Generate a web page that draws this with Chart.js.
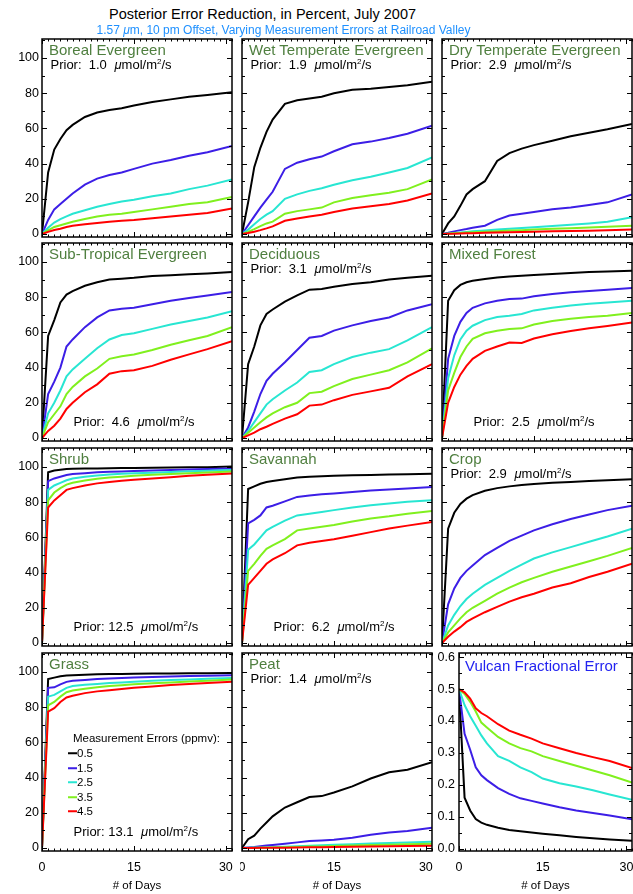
<!DOCTYPE html>
<html lang="en">
<head>
<meta charset="UTF-8" />
<script src="https://cdn.jsdelivr.net/npm/chart.js"></script>
<style>
  body { margin: 0; background: #fff; font-family: "Liberation Sans", Arial, sans-serif; }
  #page { position: relative; width: 633px; height: 894px; overflow: hidden; background: #fff; }
  canvas { position: absolute; }
  .t { position: absolute; white-space: pre; line-height: 1; transform: translateY(-50%); z-index: 5; }
  .name { font-size: 15px; color: #4f7f3f; }
  .prior { font-size: 13px; color: #000; }
  .prior i { margin-left: 4px; }
  .t sup { font-size: 8px; vertical-align: baseline; position: relative; top: -5px; }
  .leg { font-size: 11.5px; color: #000; }
  .leg span { display: inline-block; width: 9px; height: 2px; vertical-align: middle; margin-right: 0; position: relative; top: -1px; }
</style>
</head>
<body>
<div id="page"></div>
<script>
// days (0..31, July)
const days = [0, 1, 2, 3, 4, 5, 7, 9, 11, 13, 15, 18, 21, 24, 27, 31];
const errors = ["0.5", "1.5", "2.5", "3.5", "4.5"];
const colors = ["#000000", "#3c1ee6", "#28e6d2", "#80f01e", "#ff0000"];
const xTicks = [0, 15, 30];
const pctTicks = [0, 20, 40, 60, 80, 100];
const fracTicks = [0, 0.1, 0.2, 0.3, 0.4, 0.5, 0.6];

// posterior error reduction (%), one row per measurement error
const boreal = [
  [0, 35, 48, 54, 59, 62, 66.5, 69, 70.5, 71.5, 73, 75, 76.5, 78, 79, 80.5],
  [0, 8, 14, 17, 20, 23, 28, 31.5, 33.5, 35, 37, 40, 42, 44.5, 46.5, 50],
  [0, 3.5, 6.5, 8.5, 10, 11.5, 13.5, 15.5, 17, 18.5, 19.5, 21.5, 23, 25.5, 27.5, 31],
  [0, 2, 4, 5, 6, 7, 8.5, 10, 11, 11.5, 12.5, 14, 15.5, 17, 18, 21],
  [0, 1.2, 2.3, 3, 4, 4.7, 5.5, 6.3, 7, 7.5, 8, 9, 10, 11, 12, 14.5]
];
const wetTemperate = [
  [0, 18, 38, 49, 58, 65, 74, 76, 77, 78, 80, 82, 82.5, 83.5, 84.5, 86.5],
  [0, 5, 10, 15, 19.5, 24, 37, 40.5, 42.5, 44, 47, 51, 52.5, 54.5, 57, 61.5],
  [0, 2.5, 5.5, 8.5, 11, 13, 20, 22.5, 24.5, 26, 28, 30.5, 32.5, 35, 37.5, 43.5],
  [0, 1.2, 2.8, 4.5, 6, 7, 11.5, 13, 14, 15, 18, 20.5, 22, 23.5, 25.5, 31],
  [0, 0.6, 1.3, 2.2, 3.2, 4.3, 7.5, 8.8, 10, 11, 12.5, 14.5, 15.8, 17, 19, 23]
];
const dryTemperate = [
  [0, 6, 10, 16, 22.5, 25.5, 30, 41.5, 46, 48.5, 50.5, 53, 55.5, 57.5, 59.5, 62.5],
  [0, 0.7, 1.5, 2.2, 2.8, 3.5, 4.7, 8, 10.5, 11.5, 12.5, 14, 15, 16.5, 18, 22.5],
  [0, 0.3, 0.6, 0.9, 1.2, 1.5, 2, 2.6, 3, 3.4, 3.8, 4.5, 5.2, 6, 7, 9.5],
  [0, 0.2, 0.4, 0.6, 0.8, 1, 1.3, 1.6, 2, 2.2, 2.5, 3, 3.3, 3.7, 4.1, 4.7],
  [0, 0.1, 0.2, 0.3, 0.4, 0.5, 0.7, 0.9, 1, 1.1, 1.3, 1.5, 1.7, 1.9, 2.1, 2.6]
];
const subTropical = [
  [0, 58, 67, 77, 81.5, 83.5, 86.5, 88.5, 90, 90.5, 91, 92, 92.5, 93, 93.5, 94.3],
  [0, 25, 32, 40, 52, 56, 63, 68.5, 72.5, 73.5, 74, 76, 78, 79.5, 81, 83],
  [0, 14, 20, 27, 35, 39, 45, 51, 56, 58.5, 59.5, 62, 64.5, 66.5, 68.5, 72],
  [0, 9, 13.5, 18, 25, 29, 35, 39.5, 45, 46.5, 47.5, 50, 53, 55.5, 58, 63],
  [0, 4, 7, 11, 16.5, 20, 26, 30.5, 36.5, 38, 38.5, 41, 44.5, 47.5, 50.5, 55]
];
const deciduous = [
  [0, 42, 52, 64, 70.5, 73, 77.5, 81, 84.3, 84.7, 86, 87.5, 88.5, 90, 91, 92.2],
  [0, 6, 15, 25, 32.5, 36.5, 43, 50, 57, 58, 61, 64, 66.5, 68.5, 72.5, 76],
  [0, 4, 9, 14, 19, 22, 27, 31.5, 37.5, 38.5, 42, 46, 48.5, 50.5, 55.5, 63],
  [0, 3, 6, 9, 11.7, 14, 17.5, 20, 25.5, 26.3, 29.5, 33.5, 36, 38.5, 43, 51],
  [0, 1.5, 3, 5, 6.4, 8, 11, 13.5, 18.4, 19, 21.5, 24.5, 26.5, 28.5, 35, 42]
];
const mixedForest = [
  [0, 78, 84, 87, 88.5, 89.3, 90.4, 91.2, 91.7, 92.2, 92.6, 93.2, 93.8, 94.3, 94.6, 95],
  [0, 45, 58, 66, 71, 74, 76.5, 78, 79, 79.2, 80.5, 81.8, 82.8, 83.5, 84.2, 85.2],
  [0, 34, 47, 56, 61, 63.8, 67, 68.7, 69.5, 70.5, 72.5, 74, 75.3, 76.3, 77, 78],
  [0, 27, 37, 46, 52, 56.3, 59.5, 61, 62, 62.3, 64.5, 66.5, 67.8, 68.7, 69.5, 71],
  [0, 20, 29, 36, 41, 45, 49.5, 52, 54.3, 54, 56.5, 59, 60.8, 62.3, 63.7, 65.7]
];
const shrub = [
  [0, 97, 98, 98.5, 98.8, 99, 99.1, 99.2, 99.3, 99.4, 99.5, 99.6, 99.7, 99.8, 99.9, 100.3],
  [0, 92, 93.5, 94.5, 95.5, 96, 96.5, 97, 97.3, 97.5, 97.7, 98, 98.3, 98.6, 98.9, 99.2],
  [0, 87, 89.5, 91, 92.5, 93.5, 94.5, 95.2, 95.8, 96.1, 96.4, 96.8, 97.2, 97.6, 97.9, 98.3],
  [0, 81, 85.5, 88, 90, 91, 92.3, 93.3, 94, 94.5, 95, 95.6, 96, 96.5, 96.9, 97.4],
  [0, 77, 81, 84, 87, 88, 89.5, 90.7, 91.5, 92.2, 92.8, 93.5, 94.2, 95, 95.6, 96.3]
];
const savannah = [
  [0, 87.5, 89, 90.5, 91.5, 92, 93, 94, 94.4, 94.7, 95, 95.3, 95.5, 95.7, 95.9, 96.2],
  [0, 68, 70, 72.5, 77, 78, 80.5, 83, 83.8, 84.5, 85, 85.8, 86.6, 87.2, 87.8, 88.7],
  [0, 53, 56, 60, 64, 66, 69.5, 72.5, 73.5, 74.5, 75.5, 77, 78.3, 79.3, 80.2, 81.1],
  [0, 41, 45, 49.5, 53.5, 55.5, 59, 64, 65, 66, 67, 69, 70.8, 72, 73.5, 75],
  [0, 33, 37, 41, 45, 47.5, 51, 55.5, 57, 58, 59, 61, 63, 65, 66.7, 68.8]
];
const crop = [
  [0, 65, 74, 79, 82, 84, 86.5, 88, 89, 89.8, 90.3, 91, 91.5, 92, 92.5, 93],
  [0, 22, 31, 37, 41, 44, 50, 54, 58, 61, 64, 67.5, 70.5, 73, 75.5, 78],
  [0, 10, 16, 21, 25, 28, 33, 37, 41, 44.5, 48, 51.5, 54.5, 57.5, 60.5, 65],
  [0, 6, 10, 14, 17.5, 20, 24, 28, 31.5, 34.5, 37, 40.5, 43.5, 46.5, 49.5, 54],
  [0, 3.5, 6.5, 9, 12, 14, 17.5, 20.5, 23.5, 26, 28, 31.5, 34, 37.5, 40.5, 45]
];
const grass = [
  [0, 96, 96.8, 97.6, 98, 98.2, 98.5, 98.7, 98.8, 98.9, 99, 99.1, 99.2, 99.3, 99.3, 99.4],
  [0, 91, 91.3, 93, 94.4, 95, 95.5, 96, 96.3, 96.6, 96.9, 97.2, 97.5, 97.7, 97.9, 98.1],
  [0, 86, 87, 89, 91, 92, 92.7, 93.2, 93.7, 94.1, 94.5, 95, 95.4, 95.8, 96.2, 96.6],
  [0, 81, 83, 86, 88.5, 89.5, 90.5, 91.3, 92, 92.5, 93, 93.6, 94.1, 94.6, 95.1, 95.7],
  [0, 77.5, 79.5, 83, 85.5, 86.5, 88, 89, 89.7, 90.3, 91, 91.8, 92.6, 93.2, 93.8, 94.4]
];
const peat = [
  [0, 5, 7, 11, 14.5, 18, 23, 26, 29, 29.5, 31.5, 35, 39.5, 43, 44.5, 48.8],
  [0, 0.3, 0.6, 1, 1.4, 1.7, 2.4, 3.2, 4, 4.3, 4.7, 5.8, 7.5, 8.8, 9.6, 11.5],
  [0, 0.1, 0.2, 0.3, 0.4, 0.5, 0.7, 1, 1.3, 1.5, 1.8, 2.2, 2.6, 2.9, 3.2, 3.6],
  [0, 0.05, 0.1, 0.15, 0.2, 0.3, 0.4, 0.6, 0.8, 0.9, 1.1, 1.4, 1.7, 1.9, 2.1, 2.4],
  [0, 0.03, 0.06, 0.1, 0.12, 0.15, 0.2, 0.3, 0.4, 0.5, 0.6, 0.7, 0.9, 1, 1.1, 1.3]
];
// Vulcan fractional error
const vulcan = [
  [0.5, 0.16, 0.12, 0.093, 0.082, 0.075, 0.066, 0.059, 0.055, 0.051, 0.047, 0.042, 0.037, 0.033, 0.029, 0.025],
  [0.5, 0.36, 0.31, 0.255, 0.23, 0.215, 0.19, 0.172, 0.158, 0.15, 0.142, 0.13, 0.12, 0.112, 0.104, 0.092],
  [0.5, 0.45, 0.415, 0.385, 0.355, 0.33, 0.29, 0.275, 0.255, 0.24, 0.22, 0.205, 0.195, 0.183, 0.17, 0.153],
  [0.5, 0.485, 0.46, 0.43, 0.395, 0.38, 0.35, 0.33, 0.315, 0.305, 0.29, 0.275, 0.26, 0.245, 0.23, 0.207],
  [0.5, 0.49, 0.47, 0.44, 0.425, 0.415, 0.39, 0.37, 0.357, 0.345, 0.33, 0.315, 0.3, 0.287, 0.275, 0.253]
];

const colLeft = [42, 242, 442];
const rowTop = [39, 243, 448, 653];
const panelW = 190, panelH = 198;

// where = "top" puts the prior under the title, "bottom" near the bottom
const panels = [
  { name: "Boreal Evergreen", data: boreal, prior: "1.0", where: "top", col: 0, row: 0 },
  { name: "Wet Temperate Evergreen", data: wetTemperate, prior: "1.9", where: "top", col: 1, row: 0 },
  { name: "Dry Temperate Evergreen", data: dryTemperate, prior: "2.9", where: "top", col: 2, row: 0 },
  { name: "Sub-Tropical Evergreen", data: subTropical, prior: "4.6", where: "bottom", col: 0, row: 1 },
  { name: "Deciduous", data: deciduous, prior: "3.1", where: "top", col: 1, row: 1 },
  { name: "Mixed Forest", data: mixedForest, prior: "2.5", where: "bottom", col: 2, row: 1 },
  { name: "Shrub", data: shrub, prior: "12.5", where: "bottom", col: 0, row: 2 },
  { name: "Savannah", data: savannah, prior: "6.2", where: "bottom", col: 1, row: 2 },
  { name: "Crop", data: crop, prior: "2.9", where: "top", col: 2, row: 2 },
  { name: "Grass", data: grass, prior: "13.1", where: "bottom", col: 0, row: 3 },
  { name: "Peat", data: peat, prior: "1.4", where: "top", col: 1, row: 3 }
];

const page = document.getElementById("page");
const tickFont = { family: "'Liberation Sans', Arial, sans-serif", size: 12.5 };

// box + inward IDL style ticks
const frame = {
  id: "frame",
  afterDraw(chart, args, opts) {
    const { ctx, chartArea: a, scales: { x, y } } = chart;
    ctx.save();
    ctx.strokeStyle = "#000";
    ctx.lineWidth = 1;
    ctx.beginPath();
    for (let d = 0; d <= 31; d++) {
      const px = Math.round(x.getPixelForValue(d)) + 0.5;
      const len = d % 15 === 0 ? 5 : 2.5;
      ctx.moveTo(px, a.bottom); ctx.lineTo(px, a.bottom - len);
      ctx.moveTo(px, a.top); ctx.lineTo(px, a.top + len);
    }
    for (let v = 0; v <= opts.yMax + 1e-9; v += opts.yMinor) {
      const py = Math.round(y.getPixelForValue(v)) + 0.5;
      const major = Math.abs(v / opts.yMajor - Math.round(v / opts.yMajor)) < 1e-6;
      const len = major ? 5 : 3;
      ctx.moveTo(a.left, py); ctx.lineTo(a.left + len, py);
      ctx.moveTo(a.right, py); ctx.lineTo(a.right - len, py);
    }
    ctx.stroke();
    ctx.lineWidth = 1.5;
    ctx.strokeRect(a.left, a.top, a.right - a.left, a.bottom - a.top);
    ctx.restore();
  }
};

function addChart(data, left, top, width, yLabels, xLabels, yOpts) {
  const L = yLabels ? 40 : 2;
  const B = xLabels ? 42 : 2;
  const canvas = document.createElement("canvas");
  canvas.width = L + width + 2;
  canvas.height = 2 + panelH + B;
  canvas.style.left = (left - L) + "px";
  canvas.style.top = (top - 2) + "px";
  page.appendChild(canvas);

  new Chart(canvas, {
    type: "line",
    data: {
      datasets: data.map((vals, i) => ({
        label: errors[i],
        data: vals.map((v, j) => ({ x: days[j], y: v })),
        borderColor: colors[i],
        borderWidth: 2,
        pointRadius: 0,
        tension: 0,
        fill: false,
        order: data.length - 1 - i
      }))
    },
    options: {
      responsive: false,
      animation: false,
      devicePixelRatio: 1,
      layout: { padding: { left: 0, right: 2, top: 2, bottom: 0 } },
      plugins: {
        legend: { display: false },
        tooltip: { enabled: false },
        frame: yOpts.frame
      },
      scales: {
        x: {
          type: "linear", min: 0, max: 31,
          grid: { display: false, drawTicks: false },
          border: { display: false },
          afterBuildTicks: s => { s.ticks = xTicks.map(v => ({ value: v })); },
          afterFit: s => { s.height = B; s.paddingLeft = 0; s.paddingRight = 0; },
          ticks: { display: xLabels, padding: 9, font: tickFont, color: "#000", maxRotation: 0, autoSkip: false },
          title: { display: xLabels, text: "# of Days", padding: 0, color: "#000",
                   font: { family: "'Liberation Sans', Arial, sans-serif", size: 11.5 } }
        },
        y: {
          type: "linear", min: yOpts.min, max: yOpts.max,
          grid: { display: false, drawTicks: false },
          border: { display: false },
          afterBuildTicks: s => { s.ticks = yOpts.ticks.map(v => ({ value: v })); },
          afterFit: s => { s.width = L; s.paddingTop = 0; s.paddingBottom = 0; },
          ticks: { display: yLabels, padding: yOpts.pad, font: tickFont, color: "#000",
                   callback: yOpts.fmt }
        }
      }
    },
    plugins: [frame]
  });
}

function addText(cls, html, left, cy, color) {
  const d = document.createElement("div");
  d.className = "t " + cls;
  d.innerHTML = html;
  d.style.left = left + "px";
  d.style.top = cy + "px";
  if (color) d.style.color = color;
  page.appendChild(d);
}

const pctAxis = {
  min: -1.7, max: 110.8, ticks: pctTicks, pad: 3, fmt: v => String(v),
  frame: { yMax: 110, yMinor: 10, yMajor: 20 }
};

panels.forEach(p => {
  const left = colLeft[p.col], top = rowTop[p.row];
  addChart(p.data, left, top, panelW, p.col === 0, p.row === 3, pctAxis);
  addText("name", p.name, left + 7, top + 10);
  const priorText = "Prior: " + p.prior.padStart(4) + " <i>\u03bc</i>mol/m<sup>2</sup>/s";
  if (p.where === "top") addText("prior", priorText, left + 8.5, top + 24.5);
  else addText("prior", priorText, left + 31.5, top + 178);
});

// Vulcan panel, narrower with its own axis
addChart(vulcan, 459, rowTop[3], 173, true, true, {
  min: -0.007, max: 0.613, ticks: fracTicks, pad: 4, fmt: v => v.toFixed(1),
  frame: { yMax: 0.6, yMinor: 0.05, yMajor: 0.1 }
});
addText("name", "Vulcan Fractional Error", 465, rowTop[3] + 12, "#2323f0");

// legend inside Grass
addText("leg", "Measurement Errors (ppmv):", 73, 739);
errors.forEach((e, i) => {
  addText("leg", '<span style="background:' + colors[i] + '"></span>' + e, 68, 754.3 + i * 14.5);
});

// titles
const t1 = document.createElement("div");
t1.className = "t";
t1.style.cssText = "left:262.5px;top:14px;font-size:14.5px;color:#000;transform:translate(-50%,-50%)";
t1.textContent = "Posterior Error Reduction, in Percent, July 2007";
page.appendChild(t1);
const t2 = document.createElement("div");
t2.className = "t";
t2.style.cssText = "left:283.5px;top:30px;font-size:12px;color:#1e90ff;transform:translate(-50%,-50%)";
t2.innerHTML = "1.57 <i>\u03bc</i>m, 10 pm Offset, Varying Measurement Errors at Railroad Valley";
page.appendChild(t2);
</script>
</body>
</html>
